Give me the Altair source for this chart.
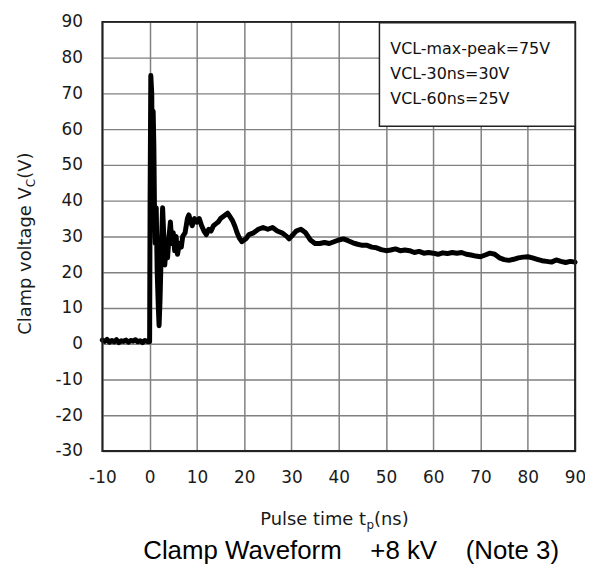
import altair as alt
import pandas as pd

# ---- data ----
t_ns = [-10, -9.5, -9, -8.5, -8, -7.5, -7, -6.5, -6, -5.5, -5, -4.5, -4, -3.5, -3, -2.5, -2, -1.5, -1, -0.5, -0.1,
        0.0, 0.1, 0.25, 0.45, 0.6, 0.75, 0.9, 1.05, 1.2, 1.4, 1.6, 1.85, 2.0, 2.2, 2.5, 2.75, 3.0, 3.2, 3.5, 3.8,
        4.1, 4.4, 4.7, 5.0, 5.3, 5.6, 5.9, 6.3, 6.7, 7.0, 7.5, 8.0, 8.3, 8.7, 9.0, 9.5, 10, 10.5, 11, 11.5, 12,
        12.5, 13, 13.5, 14, 14.5, 15, 15.5, 16, 16.5, 17, 17.5, 18, 18.5, 19, 19.5, 20, 20.5, 21, 22, 23, 24, 25,
        26, 27, 28, 29, 29.5, 30, 31, 32, 33, 34, 35, 36, 37, 38, 39, 40, 41, 42, 43, 44, 45, 46, 47, 48, 49, 50,
        51, 52, 53, 54, 55, 56, 57, 58, 59, 60, 61, 62, 63, 64, 65, 66, 67, 68, 69, 70, 71, 72, 73, 74, 75, 76,
        77, 78, 79, 80, 81, 82, 83, 84, 85, 86, 87, 88, 89, 90]
v_clamp = [1.0, 0.6, 1.2, 0.4, 0.9, 0.5, 1.1, 0.3, 0.8, 0.6, 1.0, 0.4, 0.9, 0.7, 1.1, 0.5, 0.8, 0.3, 0.9, 0.6, 0.5,
           0.5, 40, 75, 70, 45, 65, 55, 35, 28, 38, 20, 10, 5, 12, 28, 38, 30, 22, 27, 24,
           30, 34, 28, 31, 26, 30, 25, 28, 27, 30, 31, 35, 36, 34, 33, 35, 34, 35, 33, 31.5, 30.5,
           32, 31.5, 33, 33.5, 34, 35, 35.5, 36, 36.5, 35.5, 34.5, 33, 31, 29.5, 28.5, 29, 29.5, 30.5, 31, 32, 32.5, 32,
           32.5, 31.5, 31, 30, 29.3, 30, 31.5, 32, 31, 29, 28, 28, 28.3, 28, 28.5, 29, 29.3, 28.8, 28.2, 27.8, 27.5, 27.5, 27, 26.8, 26.3, 26,
           26.2, 26.5, 26, 26.2, 26, 25.5, 25.8, 25.3, 25.5, 25.3, 25, 25.4, 25.2, 25.5, 25.3, 25.5, 25, 24.8, 24.5, 24.3, 24.8, 25.3, 25, 24, 23.5, 23.3,
           23.6, 24, 24.2, 24.3, 24, 23.6, 23.2, 23, 22.8, 23.4, 23, 22.7, 23, 22.8]
x_ticks = [-10, 0, 10, 20, 30, 40, 50, 60, 70, 80, 90]
y_ticks = [-30, -20, -10, 0, 10, 20, 30, 40, 50, 60, 70, 80, 90]
legend_lines = ["VCL-max-peak=75V", "VCL-30ns=30V", "VCL-60ns=25V"]
title_text = "Clamp Waveform\u00a0\u00a0\u00a0\u00a0+8 kV\u00a0\u00a0\u00a0\u00a0(Note 3)"
y_title_parts = ["Clamp voltage V", "C", "(V)"]
x_title_parts = ["Pulse time t", "p", "(ns)"]

df = pd.DataFrame({"t": t_ns, "v": v_clamp})
one = pd.DataFrame({"k": [0]})

W, H = 476, 432
FONT = "DejaVu Sans"

line = alt.Chart(df).mark_line(color="black", strokeWidth=5, strokeJoin="round", strokeCap="round").encode(
    x=alt.X("t:Q", scale=alt.Scale(domain=[-10, 90], nice=False, zero=False),
            axis=alt.Axis(values=x_ticks, title=None, grid=True, gridColor="#808080", gridWidth=1.5,
                          ticks=False, tickSize=0, domain=False, labelFont=FONT, labelFontSize=17,
                          labelColor="#1a1a1a", labelPadding=19, labelFlush=False,
                          labelExpr="'' + datum.value")),
    y=alt.Y("v:Q", scale=alt.Scale(domain=[-30, 90], nice=False, zero=False),
            axis=alt.Axis(values=y_ticks, title=None, grid=True, gridColor="#808080", gridWidth=1.5,
                          ticks=False, tickSize=0, domain=False, labelFont=FONT, labelFontSize=17,
                          labelColor="#1a1a1a", labelPadding=20, labelExpr="'' + datum.value")),
)

border = alt.Chart(one).mark_rect(fill="transparent", stroke="#222222", strokeWidth=2).encode(
    x=alt.value(0), x2=alt.value(W), y=alt.value(0), y2=alt.value(H))

box = alt.Chart(one).mark_rect(fill="white", stroke="#222222", strokeWidth=1.5).encode(
    x=alt.value(279), x2=alt.value(W), y=alt.value(1), y2=alt.value(105))

layers = [line, border, box]

for i, txt in enumerate(legend_lines):
    layers.append(alt.Chart(one).mark_text(text=txt, font=FONT, fontSize=16, align="left",
                                           baseline="middle", color="#111111").encode(
        x=alt.value(290), y=alt.value(27 + 25.5 * i)))

# y axis title with subscript
layers.append(alt.Chart(one).mark_text(text=y_title_parts[0], font=FONT, fontSize=18, angle=270,
                                       align="left", baseline="alphabetic", color="#1a1a1a").encode(
    x=alt.value(-71.5), y=alt.value(315)))
layers.append(alt.Chart(one).mark_text(text=y_title_parts[1], font=FONT, fontSize=12, angle=270,
                                       align="left", baseline="alphabetic", color="#1a1a1a").encode(
    x=alt.value(-67.5), y=alt.value(166.4)))
layers.append(alt.Chart(one).mark_text(text=y_title_parts[2], font=FONT, fontSize=18, angle=270,
                                       align="left", baseline="alphabetic", color="#1a1a1a").encode(
    x=alt.value(-71.5), y=alt.value(158)))

# x axis title with subscript
layers.append(alt.Chart(one).mark_text(text=x_title_parts[0], font=FONT, fontSize=18,
                                       align="left", baseline="alphabetic", color="#1a1a1a").encode(
    x=alt.value(159), y=alt.value(506.5)))
layers.append(alt.Chart(one).mark_text(text=x_title_parts[1], font=FONT, fontSize=12,
                                       align="left", baseline="alphabetic", color="#1a1a1a").encode(
    x=alt.value(266), y=alt.value(510.5)))
layers.append(alt.Chart(one).mark_text(text=x_title_parts[2], font=FONT, fontSize=18,
                                       align="left", baseline="alphabetic", color="#1a1a1a").encode(
    x=alt.value(273.6), y=alt.value(506.5)))

# caption
layers.append(alt.Chart(one).mark_text(text=title_text, font="Liberation Sans", fontSize=26,
                                       align="center", baseline="middle", color="black").encode(
    x=alt.value(250.5), y=alt.value(533)))

chart = alt.layer(*layers).properties(
    width=W, height=H,
    autosize=alt.AutoSizeParams(type="none"),
    padding={"left": 95, "top": 12, "right": 10, "bottom": 124},
).configure_view(stroke=None).configure(background="white")

chart.save("out.html", embed_options={"renderer": "svg", "actions": False})
